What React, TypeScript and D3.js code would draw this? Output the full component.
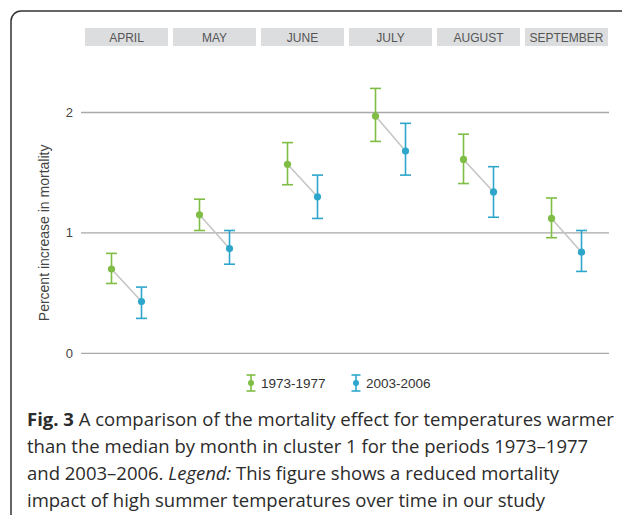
import React from "react";
import * as d3 from "d3";

// Monthly estimates (percent increase in mortality) with confidence bounds
const months = ["APRIL", "MAY", "JUNE", "JULY", "AUGUST", "SEPTEMBER"];
const early = [0.70, 1.15, 1.57, 1.97, 1.61, 1.12];
const earlyLow = [0.58, 1.02, 1.40, 1.76, 1.41, 0.96];
const earlyHigh = [0.83, 1.28, 1.75, 2.20, 1.82, 1.29];
const late = [0.43, 0.87, 1.30, 1.68, 1.34, 0.84];
const lateLow = [0.29, 0.74, 1.12, 1.48, 1.13, 0.68];
const lateHigh = [0.55, 1.02, 1.48, 1.91, 1.55, 1.02];
const yTicks = [0, 1, 2];
const seriesNames = ["1973-1977", "2003-2006"];
const captionLines = [
  ["Fig. 3", " A comparison of the mortality effect for temperatures warmer"],
  ["", "than the median by month in cluster 1 for the periods 1973–1977"],
  ["", "and 2003–2006. ", "Legend:", " This figure shows a reduced mortality"],
  ["", "impact of high summer temperatures over time in our study"],
];

const GREEN = "#7fbd45";
const BLUE = "#2ea6cc";

export default function App() {
  const x = d3
    .scaleBand<string>()
    .domain(months)
    .range([85, 608])
    .paddingInner(0.057)
    .paddingOuter(0);
  const y = d3.scaleLinear().domain([0, 2]).range([353.3, 112.5]);
  const off = 15;
  const cap = 5.5;
  const font = "Liberation Sans, Arial, sans-serif";

  const series = [
    { name: seriesNames[0], color: GREEN, v: early, lo: earlyLow, hi: earlyHigh, dx: -off },
    { name: seriesNames[1], color: BLUE, v: late, lo: lateLow, hi: lateHigh, dx: off },
  ];

  const cx = (m: string) => (x(m) as number) + x.bandwidth() / 2;

  return (
    <svg
      width={622}
      height={515}
      style={{ position: "absolute", left: 0, top: 0, background: "#fff" }}
    >
      <rect x={11} y={11} width={700} height={600} rx={10} fill="#fff" stroke="#333" strokeWidth={1.5} />

      {/* month strips */}
      {months.map((m) => (
        <g key={m}>
          <rect x={x(m)} y={28} width={x.bandwidth()} height={18} fill="#dcdddf" />
          <text x={cx(m)} y={41.5} textAnchor="middle" fontFamily={font} fontSize={12} fill="#555">
            {m}
          </text>
        </g>
      ))}

      {/* gridlines and tick labels */}
      {yTicks.map((t) => (
        <g key={t}>
          <line x1={81} x2={609} y1={y(t)} y2={y(t)} stroke="#a8a8a8" strokeWidth={1.3} />
          <text x={73} y={y(t)} dy="0.35em" textAnchor="end" fontFamily={font} fontSize={13} fill="#444">
            {t}
          </text>
        </g>
      ))}

      <text
        transform={`translate(49,${y(1)}) rotate(-90)`}
        textAnchor="middle"
        fontFamily={font}
        fontSize={14}
        fill="#444"
      >
        Percent increase in mortality
      </text>

      {/* connectors between periods */}
      {months.map((m, i) => (
        <line
          key={"c" + m}
          x1={cx(m) - off}
          y1={y(early[i])}
          x2={cx(m) + off}
          y2={y(late[i])}
          stroke="#c4c4c4"
          strokeWidth={1.5}
        />
      ))}

      {/* error bars and points */}
      {series.map((s) =>
        months.map((m, i) => {
          const px = cx(m) + s.dx;
          return (
            <g key={s.name + m} stroke={s.color} strokeWidth={1.6}>
              <line x1={px} x2={px} y1={y(s.lo[i])} y2={y(s.hi[i])} />
              <line x1={px - cap} x2={px + cap} y1={y(s.lo[i])} y2={y(s.lo[i])} />
              <line x1={px - cap} x2={px + cap} y1={y(s.hi[i])} y2={y(s.hi[i])} />
              <circle cx={px} cy={y(s.v[i])} r={3.6} fill={s.color} stroke="none" />
            </g>
          );
        })
      )}

      {/* legend */}
      {series.map((s, i) => {
        const lx = i === 0 ? 251 : 356;
        return (
          <g key={"lg" + s.name}>
            <g stroke={s.color} strokeWidth={1.6}>
              <line x1={lx} x2={lx} y1={375} y2={391} />
              <line x1={lx - 4.5} x2={lx + 4.5} y1={375} y2={375} />
              <line x1={lx - 4.5} x2={lx + 4.5} y1={391} y2={391} />
              <circle cx={lx} cy={383} r={3} fill={s.color} stroke="none" />
            </g>
            <text x={lx + 10} y={388} fontFamily={font} fontSize={13.5} fill="#333">
              {s.name}
            </text>
          </g>
        );
      })}

      {/* caption */}
      {captionLines.map((line, i) => (
        <text key={"cap" + i} x={27} y={426 + i * 27} fontFamily="Open Sans, Noto Sans, sans-serif" fontSize={18.5} fill="#2b2b2b">
          {line[0] && <tspan fontWeight="bold">{line[0]}</tspan>}
          {line.length === 4 ? (
            <>
              <tspan>{line[1]}</tspan>
              <tspan fontStyle="italic">{line[2]}</tspan>
              <tspan>{line[3]}</tspan>
            </>
          ) : (
            <tspan>{line[1]}</tspan>
          )}
        </text>
      ))}
    </svg>
  );
}
